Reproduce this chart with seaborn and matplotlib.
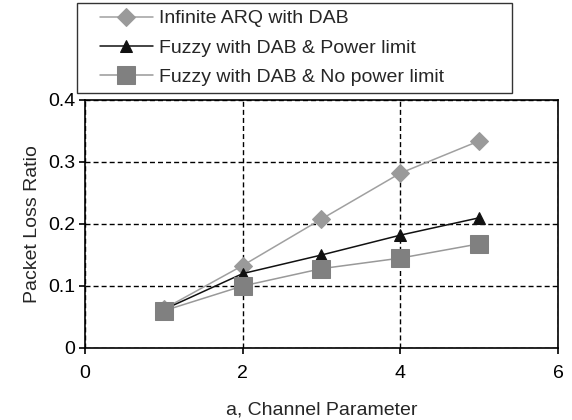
import matplotlib
matplotlib.use("Agg")
import matplotlib.pyplot as plt
from matplotlib.lines import Line2D
from matplotlib.legend_handler import HandlerLine2D
import seaborn as sns
import pandas as pd

channel_param = [1, 2, 3, 4, 5]
infinite_arq = [0.063, 0.133, 0.208, 0.282, 0.334]
fuzzy_power_limit = [0.062, 0.120, 0.150, 0.182, 0.210]
fuzzy_no_power_limit = [0.060, 0.100, 0.128, 0.145, 0.168]

series_names = ["Infinite ARQ with DAB",
                "Fuzzy with DAB & Power limit",
                "Fuzzy with DAB & No power limit"]

sns.set_style("white")
plt.rcParams["font.family"] = ["Liberation Sans", "DejaVu Sans"]

FS = 14

fig = plt.figure(figsize=(5.72, 4.2), dpi=100)
ax = fig.add_axes([85 / 572, 1 - 348 / 420, (558 - 85) / 572, (348 - 100) / 420])

styles = [
    dict(y=infinite_arq, color="#a0a0a0", marker="D", mfc="#9a9a9a", ms=10),
    dict(y=fuzzy_power_limit, color="#111111", marker="^", mfc="#111111", ms=9),
    dict(y=fuzzy_no_power_limit, color="#999999", marker="s", mfc="#808080", ms=13),
]

for name, st in zip(series_names, styles):
    df = pd.DataFrame({"x": channel_param, "y": st["y"]})
    sns.lineplot(data=df, x="x", y="y", ax=ax, color=st["color"], lw=1.1,
                 marker=st["marker"], markersize=st["ms"],
                 markerfacecolor=st["mfc"], markeredgecolor=st["mfc"],
                 label=name)

ax.set_xlim(0, 6)
ax.set_ylim(0, 0.4)
ax.set_xticks([0, 2, 4, 6])
ax.set_yticks([0, 0.1, 0.2, 0.3, 0.4])
ax.set_yticklabels(["0", "0.1", "0.2", "0.3", "0.4"])
ax.grid(True, color="black", linestyle=(0, (3.6, 2.2)), linewidth=1)
for s in ax.spines.values():
    s.set_color("black")
    s.set_linewidth(1.2)
ax.tick_params(axis="both", direction="out", length=4, width=1.2,
               labelsize=FS, colors="black", bottom=True, left=True, pad=3)
ax.tick_params(axis="x", pad=8)
ax.set_xlabel("a, Channel Parameter", fontsize=FS, labelpad=14)
ax.set_ylabel("Packet Loss Ratio", fontsize=FS, labelpad=5)

handles, labels = ax.get_legend_handles_labels()
for h in handles:
    h.set_markersize(h.get_markersize() * 0.95)
leg = ax.legend(handles, labels, loc="upper left",
                bbox_to_anchor=(77 / 572, 1 - 3 / 420, (512 - 77) / 572, 0),
                bbox_transform=fig.transFigure, mode="expand",
                frameon=True, fancybox=False, fontsize=FS,
                handlelength=3.55, handletextpad=0.3,
                handler_map={Line2D: HandlerLine2D(xpad=0.82)},
                borderpad=0.35, labelspacing=0.6, borderaxespad=0)
leg.get_frame().set_edgecolor("black")
leg.get_frame().set_linewidth(1)

fig.savefig("out.png", dpi=100)
